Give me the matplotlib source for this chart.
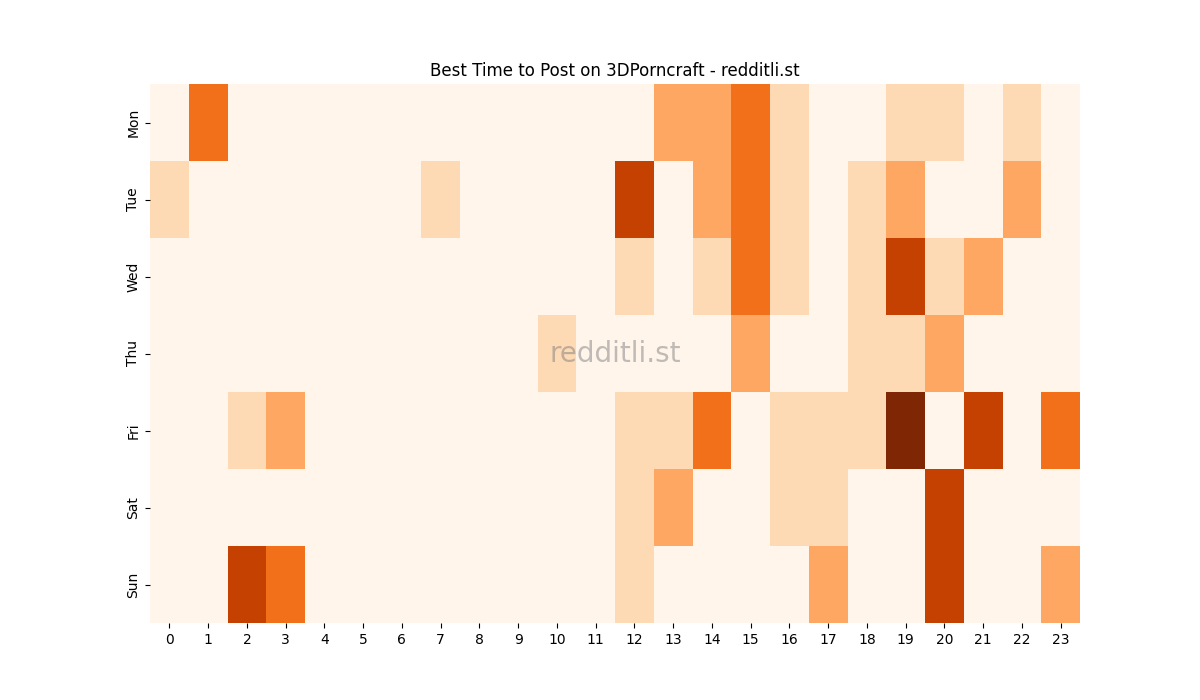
import matplotlib
matplotlib.use("Agg")
import matplotlib.pyplot as plt
import pandas as pd
import seaborn as sns

days = ["Mon", "Tue", "Wed", "Thu", "Fri", "Sat", "Sun"]
hours = list(range(24))

# Posting activity level per weekday, one value per hour 0..23
mon = [0, 3, 0, 0, 0, 0, 0, 0, 0, 0, 0, 0, 0, 2, 2, 3, 1, 0, 0, 1, 1, 0, 1, 0]
tue = [1, 0, 0, 0, 0, 0, 0, 1, 0, 0, 0, 0, 4, 0, 2, 3, 1, 0, 1, 2, 0, 0, 2, 0]
wed = [0, 0, 0, 0, 0, 0, 0, 0, 0, 0, 0, 0, 1, 0, 1, 3, 1, 0, 1, 4, 1, 2, 0, 0]
thu = [0, 0, 0, 0, 0, 0, 0, 0, 0, 0, 1, 0, 0, 0, 0, 2, 0, 0, 1, 1, 2, 0, 0, 0]
fri = [0, 0, 1, 2, 0, 0, 0, 0, 0, 0, 0, 0, 1, 1, 3, 0, 1, 1, 1, 5, 0, 4, 0, 3]
sat = [0, 0, 0, 0, 0, 0, 0, 0, 0, 0, 0, 0, 1, 2, 0, 0, 1, 1, 0, 0, 4, 0, 0, 0]
sun = [0, 0, 4, 3, 0, 0, 0, 0, 0, 0, 0, 0, 1, 0, 0, 0, 0, 2, 0, 0, 4, 0, 0, 2]

df = pd.DataFrame([mon, tue, wed, thu, fri, sat, sun], index=days, columns=hours)

fig, ax = plt.subplots(figsize=(12, 7), dpi=100)
sns.heatmap(df, cmap="Oranges", cbar=False, ax=ax)
ax.set_title("Best Time to Post on 3DPorncraft - redditli.st")
ax.set_xlabel("")
ax.set_ylabel("")
ax.set_yticklabels(days, rotation=90, va="center")
ax.set_xticklabels([str(h) for h in hours], rotation=0)
ax.text(0.5, 0.5, "redditli.st", transform=ax.transAxes, ha="center", va="center",
        fontsize=20, color="gray", alpha=0.5)

plt.savefig("out.png", dpi=100)
